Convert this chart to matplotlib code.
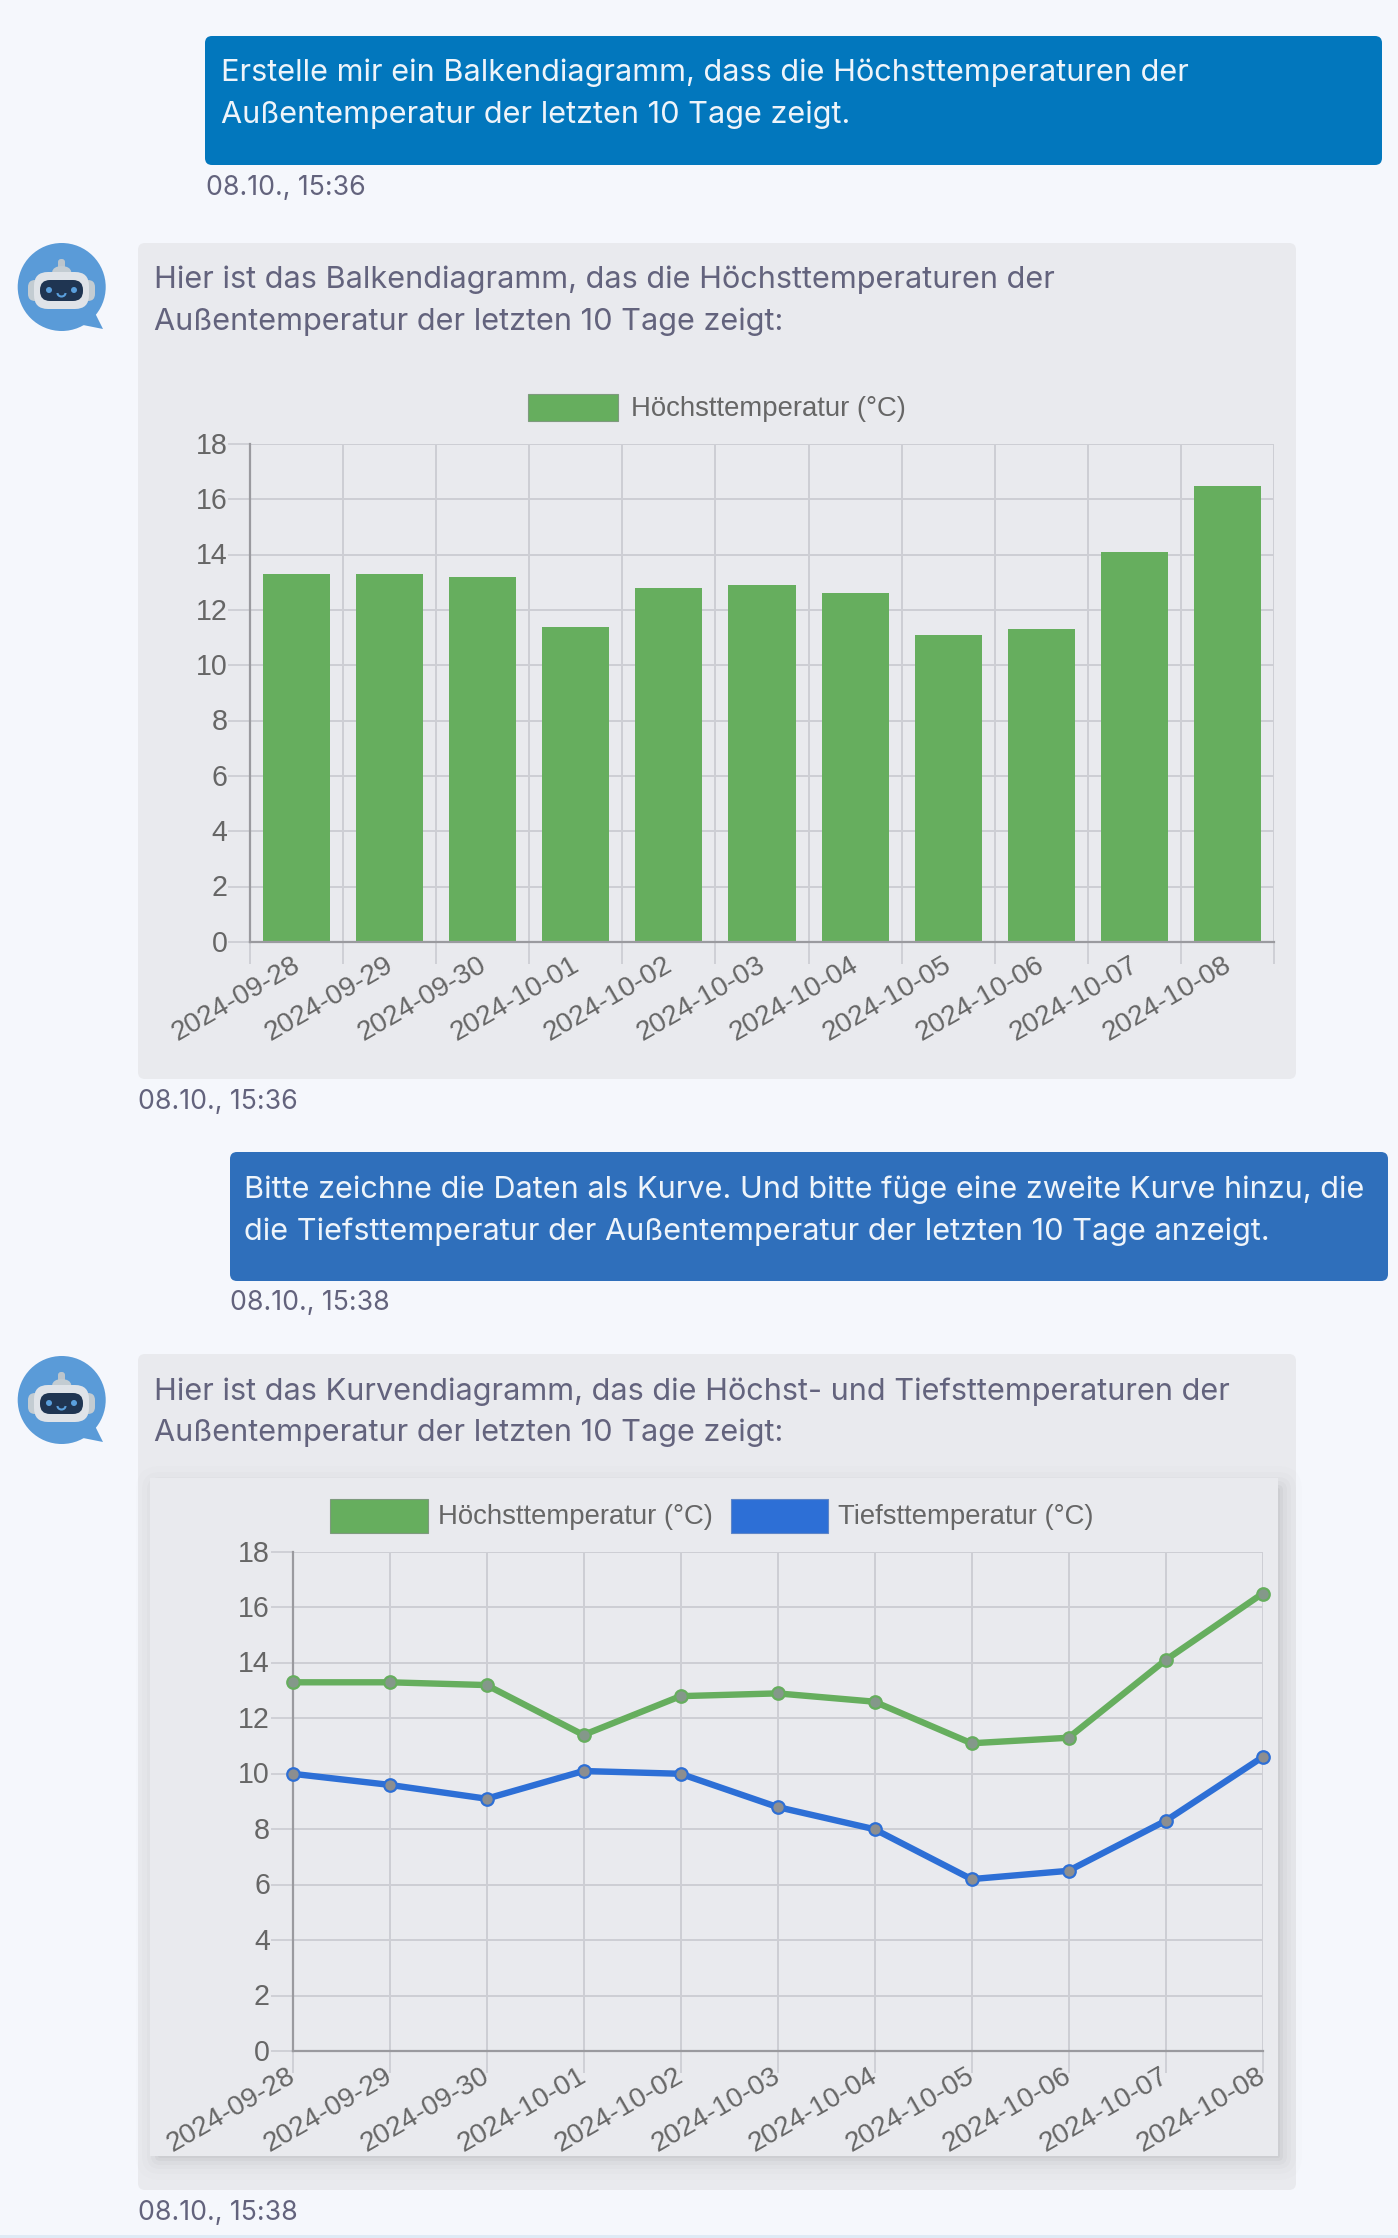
#!/usr/bin/env python3
import numpy as np
import matplotlib
matplotlib.use('Agg')
import matplotlib.pyplot as plt
from matplotlib.patches import FancyBboxPatch, Circle, Ellipse, Polygon, Rectangle, Arc
from matplotlib.transforms import ScaledTranslation

W, H = 1398, 2238
PX = 0.72  # px -> pt at dpi 100

dates = ['2024-09-28', '2024-09-29', '2024-09-30', '2024-10-01', '2024-10-02', '2024-10-03',
         '2024-10-04', '2024-10-05', '2024-10-06', '2024-10-07', '2024-10-08']
highs = [13.3, 13.3, 13.2, 11.4, 12.8, 12.9, 12.6, 11.1, 11.3, 14.1, 16.5]
lows = [10.0, 9.6, 9.1, 10.1, 10.0, 8.8, 8.0, 6.2, 6.5, 8.3, 10.6]
yticks = [0, 2, 4, 6, 8, 10, 12, 14, 16, 18]
label_high = 'Höchsttemperatur (°C)'
label_low = 'Tiefsttemperatur (°C)'

msg_user_1 = ['Erstelle mir ein Balkendiagramm, dass die Höchsttemperaturen der',
              'Außentemperatur der letzten 10 Tage zeigt.']
msg_bot_1 = ['Hier ist das Balkendiagramm, das die Höchsttemperaturen der',
             'Außentemperatur der letzten 10 Tage zeigt:']
msg_user_2 = ['Bitte zeichne die Daten als Kurve. Und bitte füge eine zweite Kurve hinzu, die',
              'die Tiefsttemperatur der Außentemperatur der letzten 10 Tage anzeigt.']
msg_bot_2 = ['Hier ist das Kurvendiagramm, das die Höchst- und Tiefsttemperaturen der',
             'Außentemperatur der letzten 10 Tage zeigt:']

BG = '#f5f7fc'
CARD = '#e9eaee'
TXT = '#63637d'
GREEN = '#66ae5e'
BLUE = '#2d6fd6'
GRID = '#cdced4'
AXIS = '#9a9a9f'
CHART_TXT = '#666666'
MSG_FONT = 'Inter'
CHART_FONT = 'Liberation Sans'
MSG_SIZE = 22.1
STAMP_SIZE = 19.2
LEGEND_SIZE = 19.8
TICK_SIZE = 20.6
DATE_SIZE = 20.2

fig = plt.figure(figsize=(W / 100, H / 100), dpi=100, facecolor=BG)
bg = fig.add_axes([0, 0, 1, 1])
bg.set_xlim(0, W)
bg.set_ylim(H, 0)
bg.axis('off')


def round_box(x0, y0, x1, y1, color, r=8, **kw):
    p = FancyBboxPatch((x0, y0), x1 - x0, y1 - y0, boxstyle=f'round,pad=0,rounding_size={r}',
                       fc=color, ec='none', **kw)
    bg.add_patch(p)
    return p


def lines(x, ys, texts, color=TXT):
    for y, t in zip(ys, texts):
        bg.text(x, y + 2, t, color=color, fontsize=MSG_SIZE, family=MSG_FONT, va='center', ha='left')


def stamp(x, y, t):
    bg.text(x, y + 2, t, color=TXT, fontsize=STAMP_SIZE, family=MSG_FONT, va='center', ha='left')


def avatar(cy):
    d = cy - 287
    bg.add_patch(Polygon([(83, 325 + d), (103, 329 + d), (94, 311 + d)], fc='#5a9bd8', ec='none'))
    bg.add_patch(Circle((61.7, cy), 44, fc='#5a9bd8', ec='none'))
    round_box(58, 259 + d, 65, 272 + d, '#bcc5cc', r=3)
    bg.add_patch(Ellipse((61.7, 272 + d), 19, 12, fc='#c3ccd2', ec='none'))
    round_box(28, 280 + d, 95, 301 + d, '#c3ccd2', r=7)
    round_box(34, 272 + d, 89, 309 + d, '#dfe3e8', r=14)
    round_box(40, 280 + d, 83, 301 + d, '#1f3552', r=10)
    bg.add_patch(Circle((49, 290 + d), 3, fc='#5a9fdc', ec='none'))
    bg.add_patch(Circle((74, 290 + d), 3, fc='#5a9fdc', ec='none'))
    # y axis is inverted here, so 0-180 is the lower half: a smile
    bg.add_patch(Arc((61.5, 293 + d), 8, 7, theta1=0, theta2=180, color='#5a9fdc', lw=1.5))


def chart_axes(x0, x1, y_top, y_bot):
    ax = fig.add_axes([x0 / W, 1 - y_bot / H, (x1 - x0) / W, (y_bot - y_top) / H])
    ax.patch.set_alpha(0)
    ax.set_ylim(0, 18)
    ax.set_yticks(yticks)
    ax.set_axisbelow(True)
    ax.grid(True, axis='y', color=GRID, lw=1.4)
    for s in ('top', 'right'):
        ax.spines[s].set_visible(False)
    for s in ('left', 'bottom'):
        ax.spines[s].set_color(AXIS)
        ax.spines[s].set_linewidth(1.6)
    ax.tick_params(axis='y', length=22 * PX, width=1.3, color=GRID, labelcolor=CHART_TXT,
                   labelsize=TICK_SIZE, pad=0.4)
    off = ScaledTranslation(0, 1.4 / 100, fig.dpi_scale_trans)
    for t in ax.get_yticklabels():
        t.set_family(CHART_FONT)
        t.set_transform(t.get_transform() + off)
    return ax


def date_labels(ax, pad, shift_px):
    ax.set_xticklabels(dates, rotation=30, ha='right', va='top', rotation_mode='anchor',
                       family=CHART_FONT, fontsize=DATE_SIZE, color=CHART_TXT)
    ax.tick_params(axis='x', which='major', pad=pad)
    off = ScaledTranslation(shift_px / 100, 0, fig.dpi_scale_trans)
    for t in ax.get_xticklabels():
        t.set_transform(t.get_transform() + off)


def legend_item(x0, x1, y0, y1, color, tx, label):
    bg.add_patch(Rectangle((x0, y0), x1 - x0, y1 - y0, fc=color, ec='#7e9a7e' if color == GREEN else '#5f86c8', lw=0.8))
    bg.text(tx, (y0 + y1) / 2 + 1, label, color=CHART_TXT, fontsize=LEGEND_SIZE, family=CHART_FONT,
            va='center', ha='left')


# chat bubbles
round_box(205, 36, 1382, 165, '#0277bd', r=7)
lines(221, [71, 113], msg_user_1, color='#eef4fa')
stamp(205.5, 186, '08.10., 15:36')

avatar(287)
round_box(138, 243, 1296, 1079, CARD, r=7)
lines(154, [278, 320], msg_bot_1)
stamp(138.5, 1100, '08.10., 15:36')

round_box(230, 1152, 1388, 1281, '#2f6fbb', r=7)
lines(244, [1188, 1230], msg_user_2, color='#eef4fa')
stamp(230, 1301, '08.10., 15:38')

avatar(1400)
round_box(138, 1354, 1296, 2190, CARD, r=7)
lines(154, [1390, 1431], msg_bot_2)
stamp(138.5, 2211, '08.10., 15:38')

# shadow of the inner chart card, mostly below and to the right
for grow, alpha in zip([24, 18, 13, 9, 5, 2], [0.008, 0.012, 0.016, 0.02, 0.026, 0.03]):
    round_box(150 - grow + 10, 1478 - grow + 12, 1278 + grow, 2156 + grow, '#000000', r=grow, alpha=alpha)
bg.add_patch(Rectangle((150, 1478), 1128, 678, fc=CARD, ec='none'))

# light band at the bottom edge
bg.add_patch(Rectangle((0, 2235), W, 3, fc='#dfeaf5', ec='none'))

# bar chart
legend_item(528, 618, 394, 421, GREEN, 631, label_high)
ax1 = chart_axes(250, 1274, 444, 942)
x = np.arange(len(dates))
ax1.bar(x, highs, width=0.72, color=GREEN, zorder=2)
ax1.set_xlim(-0.5, len(dates) - 0.5)
ax1.set_xticks(x)
ax1.set_xticks(np.arange(len(dates) + 1) - 0.5, minor=True)
ax1.grid(True, axis='x', which='minor', color=GRID, lw=1.4)
ax1.tick_params(axis='x', which='minor', length=22 * PX, width=1.3, color=GRID)
ax1.tick_params(axis='x', which='major', length=0)
date_labels(ax1, 7, -5)

# line chart
legend_item(330, 428, 1499, 1533, GREEN, 438, label_high)
legend_item(731, 828, 1499, 1533, BLUE, 838, label_low)
ax2 = chart_axes(292.5, 1262.5, 1552, 2051)
ax2.set_xlim(0, len(dates) - 1)
ax2.set_xticks(x)
ax2.grid(True, axis='x', color=GRID, lw=1.4)
ax2.tick_params(axis='x', length=22 * PX, width=1.3, color=GRID)
date_labels(ax2, -7, -6)
ax2.plot(x, highs, color=GREEN, lw=4.6, marker='o', ms=9, mfc='#84988a', mec=GREEN, mew=1.6,
         clip_on=False, zorder=3)
ax2.plot(x, lows, color=BLUE, lw=4.6, marker='o', ms=9, mfc='#8c8e90', mec=BLUE, mew=1.6,
         clip_on=False, zorder=3)

fig.savefig('out.png', dpi=100, facecolor=BG)
